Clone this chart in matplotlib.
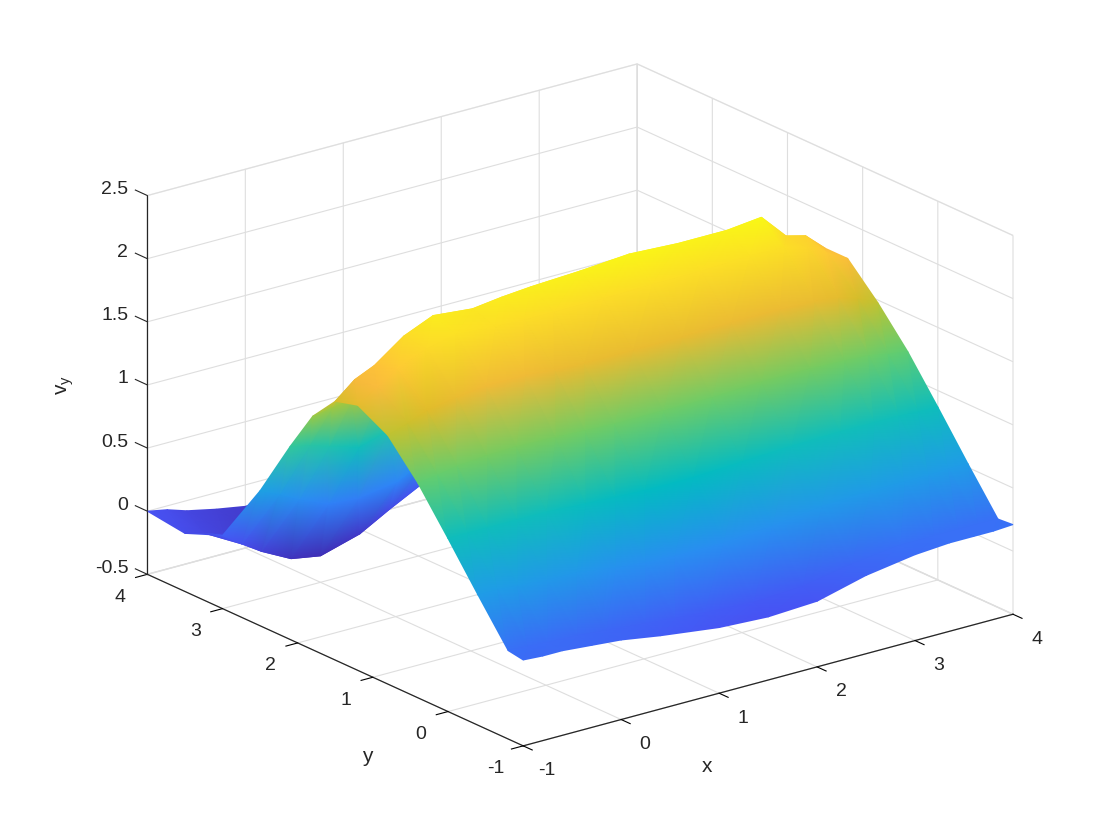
import matplotlib
matplotlib.use('Agg')
import matplotlib.pyplot as plt
import numpy as np
from matplotlib.colors import LinearSegmentedColormap
from matplotlib.tri import Triangulation
from mpl_toolkits.mplot3d import proj3d

plt.rcParams['font.family'] = ['Liberation Sans', 'DejaVu Sans']
plt.rcParams['mathtext.fontset'] = 'custom'
plt.rcParams['mathtext.rm'] = 'Liberation Sans'

# Grid
x_nodes = [-1, -.8, -.6, -.3, 0, .4, .7, 1, 1.5, 2, 2.5, 3, 3.35, 3.6, 3.8, 4]
y_nodes = [-1, -.8, -.4, 0, .4, .8, 1.2, 1.5, 1.8, 2.1, 2.5, 3, 3.5, 4]

# vy, one row per y node
vy = np.array([
    [.18, .17, .17, .15, .13, .08, .05, .02, 0, .02, .12, .18, .2, .2, .2, .21],
    [.2, .19, .18, .17, .15, .12, .1, .08, .06, .08, .15, .2, .2, .2, .2, .2],
    [.53, .53, .52, .5, .5, .45, .43, .42, .42, .45, .5, .52, .52, .52, .53, .53],
    [.87, .87, .87, .87, .87, .85, .84, .83, .83, .85, .87, .88, .88, .88, .87, .87],
    [1.2, 1.22, 1.25, 1.27, 1.28, 1.27, 1.26, 1.25, 1.25, 1.25, 1.27, 1.27, 1.26, 1.25, 1.22, 1.2],
    [1.47, 1.52, 1.58, 1.62, 1.65, 1.65, 1.63, 1.62, 1.62, 1.62, 1.63, 1.63, 1.62, 1.6, 1.55, 1.48],
    [1.6, 1.7, 1.8, 1.9, 1.95, 1.93, 1.92, 1.92, 1.92, 1.93, 1.93, 1.95, 1.94, 1.88, 1.8, 1.72],
    [1.55, 1.68, 1.75, 1.92, 2.02, 1.99, 2.02, 2.04, 2.06, 2.09, 2.07, 2.07, 2.1, 1.9, 1.86, 1.72],
    [1.35, 1.38, 1.4, 1.42, 1.45, 1.5, 1.52, 1.55, 1.6, 1.65, 1.7, 1.8, 1.8, 1.7, 1.6, 1.5],
    [1.03, 1.0, .95, .88, .95, 1.05, 1.12, 1.2, 1.3, 1.35, 1.4, 1.5, 1.48, 1.4, 1.35, 1.25],
    [.57, .5, .42, .32, .3, .35, .47, .6, .8, .9, .95, 1, .98, .9, .85, .8],
    [.08, -.03, -.13, -.25, -.29, -.2, -.07, .05, .3, .45, .5, .5, .47, .43, .4, .35],
    [-.04, -.08, -.12, -.18, -.2, -.18, -.12, -.05, .05, .1, .12, .12, .12, .11, .1, .08],
    [0, -.03, -.08, -.13, -.17, -.15, -.12, -.1, -.05, 0, 0, 0, 0, 0, 0, 0],
])

x_ticks = [-1, 0, 1, 2, 3, 4]
y_ticks = [-1, 0, 1, 2, 3, 4]
z_ticks = [-.5, 0, .5, 1, 1.5, 2, 2.5]
x_labels = ['-1', '0', '1', '2', '3', '4']
y_labels = ['-1', '0', '1', '2', '3', '4']
z_labels = ['-0.5', '0', '0.5', '1', '1.5', '2', '2.5']

# parula, a few of the rows of its 64 colour table
parula = LinearSegmentedColormap.from_list('parula', [
    (0, (.2422, .1504, .6603)), (9 / 63, (.2810, .3228, .9579)), (18 / 63, (.1786, .5289, .9682)),
    (27 / 63, (.0689, .6948, .8394)), (30 / 63, (.0067, .7312, .7660)), (32 / 63, (.0964, .7500, .7120)),
    (36 / 63, (.2161, .7843, .5923)), (40 / 63, (.3909, .8029, .4354)), (45 / 63, (.6720, .7793, .2227)),
    (49 / 63, (.8634, .7406, .1596)), (52 / 63, (.9728, .7298, .2394)), (54 / 63, (.9970, .7659, .2199)),
    (1, (.9769, .9839, .0805))])

W, H = 1120, 840
fig = plt.figure(figsize=(W / 100, H / 100), dpi=100)
ax = fig.add_axes([0.0045, -0.1667, 1.0, 1.0 * W / H], projection='3d', proj_type='ortho')
ax.view_init(elev=20.5, azim=-127.5)
ax.set_box_aspect((1, 1, .655), zoom=.834)
ax.set_xlim(-1, 4, view_margin=0)
ax.set_ylim(-1, 4, view_margin=0)
ax.set_zlim(-.5, 2.5, view_margin=0)
ax.set_xticks(x_ticks)
ax.set_yticks(y_ticks)
ax.set_zticks(z_ticks)
ax.set_xticklabels([''] * len(x_ticks))
ax.set_yticklabels([''] * len(y_ticks))
ax.set_zticklabels([''] * len(z_ticks))

for axis in (ax.xaxis, ax.yaxis, ax.zaxis):
    axis.pane.set_facecolor('white')
    axis.pane.set_edgecolor('#dddddd')
    axis.line.set_color('#262626')
    axis.line.set_linewidth(.9)
    axis._axinfo['grid'].update(color='#dedede', linewidth=.8)
    axis._axinfo['tick'].update(inward_factor=.3, outward_factor=0, linewidth={True: .8, False: .5}, color='#262626')
# z ticks lean along y here, so they are drawn below instead
ax.zaxis._axinfo['tick'].update(inward_factor=0, outward_factor=0)

fig.canvas.draw()
M = ax.get_proj()


def to_pixels(xs, ys, zs):
    xp, yp, zp = proj3d.proj_transform(np.asarray(xs, float), np.asarray(ys, float), np.asarray(zs, float), M)
    return ax.transData.transform(np.column_stack([xp, yp])), zp


# surface goes on top, projected through the 3d axes and sorted back to front
X, Y = np.meshgrid(x_nodes, y_nodes)
pix, depth = to_pixels(X.ravel(), Y.ravel(), vy.ravel())

ny, nx = X.shape
tris = []
for j in range(ny - 1):
    for i in range(nx - 1):
        a = j * nx + i
        tris.append([a, a + 1, a + nx + 1])
        tris.append([a, a + nx + 1, a + nx])
tris = np.array(tris)
tris = tris[np.argsort(-depth[tris].mean(axis=1))]

ov = fig.add_axes([0, 0, 1, 1])
ov.set_xlim(0, W)
ov.set_ylim(0, H)
ov.axis('off')
ov.tripcolor(Triangulation(pix[:, 0], pix[:, 1], tris), vy.ravel(), shading='gouraud',
             cmap=parula, vmin=-.35, vmax=2.12)

# tick labels sit off the axis lines by a fixed number of pixels
p, _ = to_pixels(x_ticks, [-1] * 6, [-.5] * 6)
for (px, py), s in zip(p, x_labels):
    ov.text(px + 24, py - 25, s, fontsize=14, color='#262626', ha='center', va='center')
p, _ = to_pixels([-1] * 6, y_ticks, [-.5] * 6)
for (px, py), s in zip(p, y_labels):
    ov.text(px - 27, py - 23, s, fontsize=14, color='#262626', ha='center', va='center')
p, _ = to_pixels([-1] * 7, [4] * 7, z_ticks)
for (px, py), s in zip(p, z_labels):
    ov.text(px - 19, py + 6, s, fontsize=14, color='#262626', ha='right', va='center')
    ov.plot([px, px - 12], [py, py + 5.5], color='#262626', lw=.8)

fig.text(707 / W, 1 - 767 / H, 'x', fontsize=15, color='#262626', ha='center', va='center')
fig.text(367 / W, 1 - 757 / H, 'y', fontsize=15, color='#262626', ha='center', va='center')
fig.text(65 / W, 1 - 385 / H, r'v$_{\mathregular{y}}$', fontsize=15, color='#262626',
         rotation=90, ha='center', va='center')

fig.savefig('out.png', dpi=100)
